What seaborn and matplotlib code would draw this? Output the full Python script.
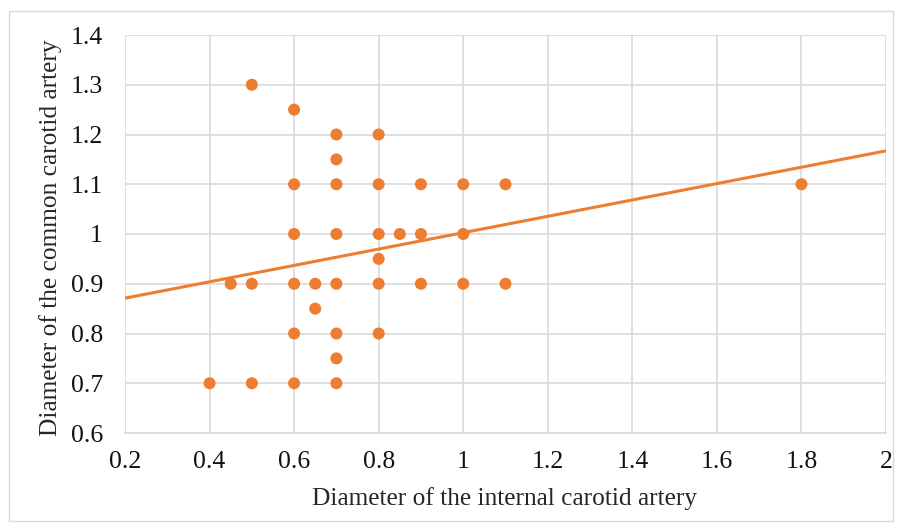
import numpy as np
import pandas as pd
import matplotlib
matplotlib.use("Agg")
import matplotlib.pyplot as plt
import seaborn as sns
from matplotlib.patches import Rectangle

# values
internal_diam = [0.4, 0.45, 0.5, 0.5, 0.5,
                 0.6, 0.6, 0.6, 0.6, 0.6, 0.6,
                 0.65, 0.65,
                 0.7, 0.7, 0.7, 0.7, 0.7, 0.7, 0.7, 0.7,
                 0.8, 0.8, 0.8, 0.8, 0.8, 0.8,
                 0.85,
                 0.9, 0.9, 0.9,
                 1.0, 1.0, 1.0,
                 1.1, 1.1,
                 1.8]
common_diam = [0.7, 0.9, 1.3, 0.9, 0.7,
               1.25, 1.1, 1.0, 0.9, 0.8, 0.7,
               0.9, 0.85,
               1.2, 1.15, 1.1, 1.0, 0.9, 0.8, 0.75, 0.7,
               1.2, 1.1, 1.0, 0.95, 0.9, 0.8,
               1.0,
               1.1, 1.0, 0.9,
               1.1, 1.0, 0.9,
               1.1, 0.9,
               1.1]
x_ticks = [0.2, 0.4, 0.6, 0.8, 1.0, 1.2, 1.4, 1.6, 1.8, 2.0]
x_tick_labels = ["0.2", "0.4", "0.6", "0.8", "1", "1.2", "1.4", "1.6", "1.8", "2"]
y_ticks = [0.6, 0.7, 0.8, 0.9, 1.0, 1.1, 1.2, 1.3, 1.4]
y_tick_labels = ["0.6", "0.7", "0.8", "0.9", "1", "1.1", "1.2", "1.3", "1.4"]

df = pd.DataFrame({"ica": internal_diam, "cca": common_diam})

sns.set_style("white")
plt.rcParams["font.family"] = ["Liberation Serif", "DejaVu Serif"]

orange = "#ED7D31"
grid_c = "#D9D9D9"

fig = plt.figure(figsize=(9.02, 5.32), dpi=100)
ax = fig.add_axes([125 / 902, 1 - 433 / 532, (886 - 125) / 902, (433 - 35) / 532])

# linear trendline (least squares) across the full x range
slope, intercept = np.polyfit(df["ica"], df["cca"], 1)
xs = np.array([x_ticks[0], x_ticks[-1]])
sns.lineplot(x=xs, y=slope * xs + intercept, ax=ax, color=orange, lw=2.2, zorder=2)

sns.scatterplot(data=df, x="ica", y="cca", ax=ax, color=orange, s=75,
                edgecolor="none", zorder=3)

ax.set_xlim(x_ticks[0], x_ticks[-1])
ax.set_ylim(y_ticks[0], y_ticks[-1])
ax.set_xticks(x_ticks, x_tick_labels)
ax.set_yticks(y_ticks, y_tick_labels)
ax.tick_params(axis="both", length=0, labelsize=18.5, colors="#111111")
ax.tick_params(axis="x", pad=13)
ax.tick_params(axis="y", pad=16)
ax.grid(True, color=grid_c, lw=1.2, zorder=0)
ax.set_axisbelow(True)
for side in ["top", "right", "left"]:
    ax.spines[side].set_visible(False)
ax.spines["bottom"].set_color(grid_c)
ax.spines["bottom"].set_linewidth(1.2)

ax.set_xlabel("Diameter of the internal carotid artery", fontsize=18.3, va="center")
ax.set_ylabel("Diameter of the common carotid artery", fontsize=18.3, va="center")
ax.xaxis.set_label_coords((505 - 125) / 761, -(499 - 433) / 398)
ax.yaxis.set_label_coords(-(125 - 51) / 761, (433 - 238) / 398)

fig.patches.append(Rectangle((9 / 902, 1 - 521 / 532), (893 - 9) / 902, (521 - 11) / 532,
                             transform=fig.transFigure, fill=False,
                             edgecolor=grid_c, lw=1))

fig.savefig("out.png", dpi=100)
